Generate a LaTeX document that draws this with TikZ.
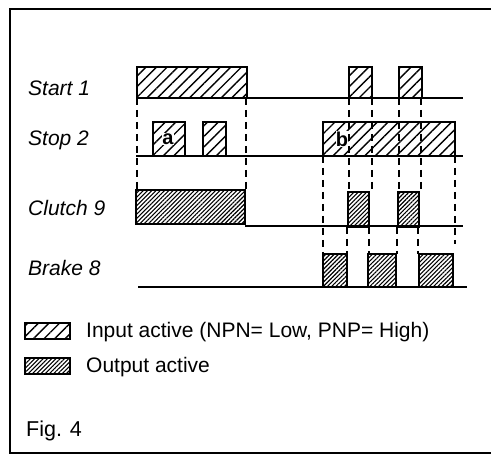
\documentclass[tikz,border=0pt]{standalone}
\usepackage{fontspec}
\setmainfont{Liberation Sans}
\usetikzlibrary{patterns.meta}
\tikzset{
  inbox/.style={draw=black, line width=1.5pt, pattern={Lines[angle=45,distance=7.5pt,line width=1.4pt]}},
  outbox/.style={draw=black, line width=1.5pt, pattern={Lines[angle=45,distance=3pt,line width=1.1pt]}},
  base/.style={line width=1.9pt},
  dsh/.style={line width=1.6pt, dash pattern=on 7pt off 5pt},
  sig/.style={font=\fontsize{21}{24}\selectfont\itshape, anchor=west, inner sep=0pt},
  leg/.style={font=\fontsize{21}{24}\selectfont, anchor=west, inner sep=0pt},
  lett/.style={font=\fontsize{20}{22}\selectfont\bfseries, fill=white, inner sep=0.3pt}
}
\begin{document}
\begin{tikzpicture}[x=1pt,y=-1pt]
\useasboundingbox (0,0) rectangle (491,457);
% frame
\draw[line width=1.6pt] (520,9) -- (10,9) -- (10,453) -- (520,453);
% signal labels
\node[sig] (l1) at (28,88) {Start 1};
\node[sig] (l2) at (28,140) {Stop 2};
\node[sig] (l3) at (28,208) {Clutch 9};
\node[sig] (l4) at (28,268) {Brake 8};
% coordinates for baselines
\coordinate (s1a) at (136,98); \coordinate (s1b) at (463,98);
\coordinate (s2a) at (136,156); \coordinate (s2b) at (463,156);
\coordinate (c9a) at (245,226); \coordinate (c9b) at (463,226);
\coordinate (b8a) at (138,287); \coordinate (b8b) at (467,287);
% boxes Start 1
\draw[inbox] (137,67) rectangle (247,98);
\draw[inbox] (349,67) rectangle (372,98);
\draw[inbox] (399,67) rectangle (422,98);
% Stop 2
\draw[inbox] (153,122) rectangle (185,156);
\draw[inbox] (203,122) rectangle (226,156);
\draw[inbox] (323,122) rectangle (455,156);
\node[lett] (a) at (168,139) {a};
\node[lett] (b) at (342,139) {b};
% Clutch 9
\draw[outbox] (136,190) rectangle (245,224);
\draw[outbox] (348,192) rectangle (369,227);
\draw[outbox] (398,192) rectangle (419,227);
% Brake 8
\draw[outbox] (323,254) rectangle (347,287);
\draw[outbox] (368,254) rectangle (396,287);
\draw[outbox] (419,254) rectangle (453,287);
% baselines
\draw[base] (s1a) -- (s1b);
\draw[base] (s2a) -- (s2b);
\draw[base] (c9a) -- (c9b);
\draw[base] (b8a) -- (b8b);
% dashed guide lines
\draw[dsh] (137,98) -- (137,190);
\draw[dsh] (246,98) -- (246,190);
\draw[dsh] (349,98) -- (349,192);
\draw[dsh] (372,98) -- (372,192);
\draw[dsh] (399,98) -- (399,192);
\draw[dsh] (421,98) -- (421,192);
\draw[dsh] (323,156) -- (323,254);
\draw[dsh] (455,156) -- (455,244);
\draw[dsh] (347,227) -- (347,254);
\draw[dsh] (369,227) -- (369,254);
\draw[dsh] (397,227) -- (397,254);
\draw[dsh] (418,227) -- (418,254);
% legend
\draw[inbox, line width=1.2pt] (25,323) rectangle (70,339);
\node[leg] (t1) at (86,332) {Input active (NPN= Low, PNP= High)};
\draw[outbox, line width=1.2pt] (25,358) rectangle (70,374);
\node[leg] (t2) at (86,367) {Output active};
\node[leg, font=\fontsize{21.5}{24}\selectfont] (fig) at (26,431) {Fig. 4};
\end{tikzpicture}
\end{document}
